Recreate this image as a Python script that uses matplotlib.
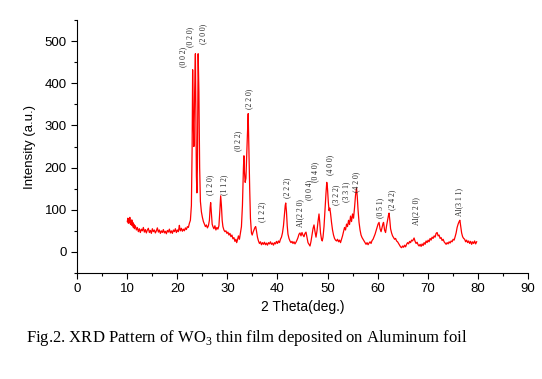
import matplotlib
matplotlib.use("Agg")
import matplotlib.pyplot as plt
from matplotlib.ticker import MultipleLocator

two_theta = [
    10.0, 10.1, 10.2, 10.3, 10.4, 10.5, 10.6, 10.7, 10.8, 10.9, 11.0, 11.1, 11.2, 11.3, 11.4, 11.6, 11.8,
    12.0, 12.2, 12.4, 12.6, 12.8, 13.0, 13.2, 13.4, 13.6, 13.8, 14.0, 14.2, 14.4, 14.6, 14.8, 15.0, 15.2,
    15.4, 15.6, 15.8, 16.0, 16.2, 16.4, 16.6, 16.8, 17.0, 17.2, 17.4, 17.6, 17.8, 18.0, 18.2, 18.4, 18.6,
    18.8, 19.0, 19.2, 19.4, 19.6, 19.8, 20.0, 20.2, 20.4, 20.5, 20.6, 20.8, 21.0, 21.2, 21.4, 21.6, 21.8,
    22.0, 22.2, 22.4, 22.6, 22.8, 22.95, 23.05, 23.15, 23.3, 23.45, 23.6, 23.7, 23.8, 23.9, 24.0, 24.15,
    24.3, 24.45, 24.6, 24.8, 25.0, 25.2, 25.4, 25.6, 25.8, 26.0, 26.2, 26.4, 26.55, 26.65, 26.8, 26.95,
    27.1, 27.3, 27.5, 27.7, 27.9, 28.1, 28.3, 28.5, 28.65, 28.8, 28.95, 29.1, 29.3, 29.5, 29.7, 29.9,
    30.1, 30.3, 30.5, 30.7, 30.9, 31.1, 31.3, 31.5, 31.7, 31.85, 32.0, 32.2, 32.4, 32.6, 32.8, 33.0,
    33.2, 33.3, 33.4, 33.55, 33.7, 33.85, 34.0, 34.15, 34.3, 34.45, 34.6, 34.8, 34.95, 35.1, 35.3, 35.5,
    35.65, 35.8, 36.0, 36.2, 36.4, 36.6, 36.8, 37.0, 37.2, 37.4, 37.6, 37.8, 38.0, 38.2, 38.4, 38.6,
    38.8, 39.0, 39.2, 39.4, 39.6, 39.8, 40.0, 40.2, 40.4, 40.6, 40.8, 41.0, 41.2, 41.4, 41.55, 41.65,
    41.8, 41.95, 42.1, 42.3, 42.5, 42.7, 42.9, 43.1, 43.3, 43.5, 43.7, 43.9, 44.1, 44.3, 44.5, 44.7,
    44.9, 45.1, 45.3, 45.5, 45.7, 45.9, 46.1, 46.3, 46.5, 46.7, 46.9, 47.1, 47.3, 47.5, 47.7, 47.9,
    48.1, 48.3, 48.45, 48.6, 48.8, 48.95, 49.1, 49.3, 49.5, 49.7, 49.85, 50.0, 50.15, 50.3, 50.45,
    50.6, 50.8, 51.0, 51.2, 51.4, 51.6, 51.8, 52.0, 52.2, 52.4, 52.6, 52.8, 53.0, 53.2, 53.4, 53.6,
    53.8, 54.0, 54.2, 54.4, 54.6, 54.8, 55.0, 55.2, 55.4, 55.6, 55.8, 55.95, 56.1, 56.3, 56.5, 56.7,
    56.9, 57.1, 57.3, 57.5, 57.7, 57.9, 58.1, 58.3, 58.5, 58.7, 58.9, 59.1, 59.3, 59.5, 59.7, 59.9,
    60.1, 60.3, 60.5, 60.7, 60.9, 61.1, 61.2, 61.4, 61.6, 61.8, 62.0, 62.2, 62.3, 62.45, 62.6, 62.8,
    63.0, 63.2, 63.4, 63.6, 63.8, 64.0, 64.2, 64.4, 64.6, 64.8, 65.0, 65.2, 65.4, 65.6, 65.8, 66.0,
    66.2, 66.4, 66.6, 66.8, 67.0, 67.3, 67.5, 67.7, 67.9, 68.1, 68.3, 68.5, 68.7, 68.9, 69.1, 69.3,
    69.5, 69.7, 69.9, 70.1, 70.3, 70.5, 70.7, 70.9, 71.1, 71.3, 71.5, 71.7, 71.9, 72.1, 72.3, 72.5,
    72.7, 72.9, 73.1, 73.3, 73.5, 73.7, 73.9, 74.1, 74.3, 74.5, 74.7, 74.9, 75.1, 75.3, 75.5, 75.7,
    75.9, 76.1, 76.3, 76.45, 76.6, 76.8, 77.0, 77.2, 77.4, 77.6, 77.8, 78.0, 78.2, 78.4, 78.6, 78.8,
    79.0, 79.2, 79.4, 79.6, 79.8,
]
intensity = [
    72, 80, 68, 78, 70, 82, 66, 74, 64, 76, 62, 70, 58, 66, 55, 62, 52,
    58, 48, 55, 46, 54, 50, 58, 47, 53, 45, 52, 56, 46, 51, 44, 55, 48,
    52, 45, 50, 57, 47, 52, 44, 50, 46, 53, 45, 49, 43, 51, 47, 54, 45,
    50, 44, 52, 48, 55, 46, 52, 48, 63, 55, 50, 56, 49, 54, 50, 57, 53,
    60, 58, 68, 75, 110, 250, 432, 330, 250, 380, 470, 330, 180, 140, 200, 470,
    380, 200, 120, 95, 82, 72, 66, 60, 64, 57, 62, 75, 105, 117, 90, 66,
    60, 55, 62, 52, 58, 54, 62, 100, 133, 110, 75, 60, 52, 48, 50, 44,
    47, 40, 44, 36, 40, 31, 34, 25, 30, 22, 28, 38, 30, 45, 60, 110,
    200, 228, 190, 165, 175, 230, 280, 328, 240, 150, 80, 45, 40, 46, 52, 58,
    60, 50, 35, 26, 20, 24, 17, 22, 18, 23, 17, 21, 16, 22, 19, 24,
    18, 21, 16, 22, 19, 25, 20, 26, 22, 30, 35, 45, 62, 88, 110, 116,
    95, 62, 42, 32, 26, 22, 25, 20, 24, 19, 23, 28, 34, 42, 45, 38,
    46, 40, 36, 44, 47, 35, 22, 18, 14, 25, 40, 55, 64, 48, 35, 50,
    72, 90, 70, 45, 30, 26, 35, 60, 100, 140, 165, 150, 120, 98, 104,
    92, 70, 52, 40, 32, 28, 26, 30, 24, 28, 22, 30, 38, 48, 58, 52,
    66, 60, 75, 65, 85, 72, 90, 80, 105, 135, 151, 130, 100, 70, 52, 40,
    34, 30, 26, 22, 18, 22, 17, 21, 24, 20, 27, 30, 36, 42, 50, 58,
    66, 70, 55, 48, 58, 68, 70, 52, 46, 62, 75, 88, 92, 75, 55, 45,
    38, 34, 30, 32, 26, 24, 20, 16, 12, 10, 14, 11, 16, 12, 18, 22,
    19, 25, 22, 28, 26, 33, 25, 20, 23, 17, 14, 18, 13, 19, 15, 22,
    18, 26, 22, 28, 24, 32, 28, 35, 32, 38, 35, 44, 46, 38, 40, 32,
    34, 27, 30, 24, 21, 18, 22, 19, 24, 21, 26, 24, 30, 28, 36, 45,
    58, 66, 72, 75, 62, 45, 36, 32, 30, 24, 28, 22, 26, 20, 25, 18,
    24, 20, 26, 19, 24,
]

# peak labels: text, 2-theta position, intensity (centre of the rotated label)
peak_labels = ["(0 0 2)", "(0 2 0)", "(2 0 0)", "(1 2 0)", "(1 1 2)", "(0 2 2)", "(2 2 0)",
               "(1 2 2)", "(2 2 2)", "Al(2 2 0)", "(0 0 4)", "(0 4 0)", "(4 0 0)", "(3 2 2)",
               "(3 3 1)", "(4 2 0)", "(0 5 1)", "(2 4 2)", "Al(2 2 0)", "Al(3 1 1)"]
label_theta = [21.2, 22.5, 25.2, 26.5, 29.4, 32.25, 34.3, 37.0, 42.0, 44.5, 46.4, 47.6, 50.5,
               51.7, 53.7, 55.8, 60.6, 63.0, 67.8, 76.3]
label_int = [463, 511, 516, 159, 160, 264, 362, 95, 152, 92, 147, 190, 207, 135, 143, 166,
             105, 123, 97, 119]

x_ticks = [0, 10, 20, 30, 40, 50, 60, 70, 80, 90]
y_ticks = [0, 100, 200, 300, 400, 500]

plt.rcParams['mathtext.fontset'] = 'custom'
plt.rcParams['mathtext.rm'] = 'Liberation Serif'

fig = plt.figure(figsize=(5.42, 3.79), dpi=100)
ax = fig.add_axes([0.1426, 0.2797, 0.831, 0.6675])

ax.plot(two_theta, intensity, color='#ff0000', lw=0.9)

ax.set_xlim(0, 90)
ax.set_ylim(-50, 550)
ax.set_xticks(x_ticks)
ax.set_yticks(y_ticks)
ax.xaxis.set_minor_locator(MultipleLocator(5))
ax.yaxis.set_minor_locator(MultipleLocator(50))
ax.tick_params(which='major', direction='out', length=4, width=0.8, labelsize=9.5)
ax.tick_params(which='minor', direction='out', length=2.5, width=0.8)
for lbl in ax.get_xticklabels() + ax.get_yticklabels():
    lbl.set_fontfamily('Liberation Sans')
ax.spines['top'].set_visible(False)
ax.spines['right'].set_visible(False)

ax.set_xlabel('2 Theta(deg.)', fontsize=10, family='Liberation Sans', labelpad=3)
ax.set_ylabel('Intensity (a.u.)', fontsize=9.5, family=['Liberation Sans Narrow', 'Liberation Sans'], labelpad=6)

for t, x, y in zip(peak_labels, label_theta, label_int):
    ax.text(x, y, t, rotation=90, ha='center', va='center', fontsize=5.5,
            family='Liberation Serif', color='#222222')

fig.text(0.048, 0.108, r'Fig.2. XRD Pattern of WO$_3$ thin film deposited on Aluminum foil',
         fontsize=12, family='Liberation Serif', ha='left', va='center')

fig.savefig('out.png', dpi=100)
